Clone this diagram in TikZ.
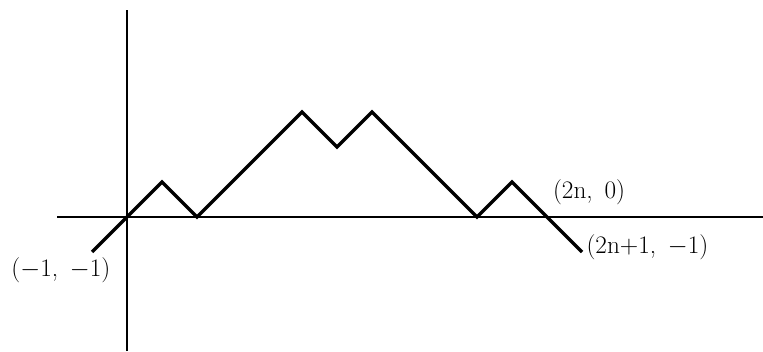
\documentclass[tikz,border=0pt]{standalone}
\usepackage{fontspec}
\usepackage{tikz}
\usetikzlibrary{calc}

\begin{document}
\begin{tikzpicture}[
    axis/.style={line width=1.4pt},
    walk/.style={line width=2.8pt, line join=miter},
    lbl/.style={font=\fontsize{20.5}{24}\selectfont, inner sep=0pt}
  ]
      % frame: 1 unit = 35px, origin at (127,217) of 763x351
      \useasboundingbox (-3.63,-3.83) rectangle (18.17,6.2);
      % axes
      \draw[axis] (-2.0,0) -- (18.17,0);
      \draw[axis] (0,-3.83) -- (0,5.91);
      % the walk from (-1,-1) to (2n+1,-1), here 2n=12
      \draw[walk] (-1,-1) coordinate (start) -- (0,0) -- (1,1) -- (2,0) -- (5,3) -- (6,2) -- (7,3)
        -- (10,0) -- (11,1) -- (12,0) coordinate (cross) -- (13,-1) coordinate (end);
      % labels
      \node[lbl] (startlbl) at ($(start)+(-0.89,-0.52)$) {(${-}$1,\, ${-}$1)};
      \node[lbl] (crosslbl) at ($(cross)+(1.2,0.72)$) {(2n,\, 0)};
      \node[lbl, anchor=west] (endlbl) at ($(end)+(0.12,0.15)$) {(2n$+$1,\, ${-}$1)};
    \end{tikzpicture}
\end{document}
